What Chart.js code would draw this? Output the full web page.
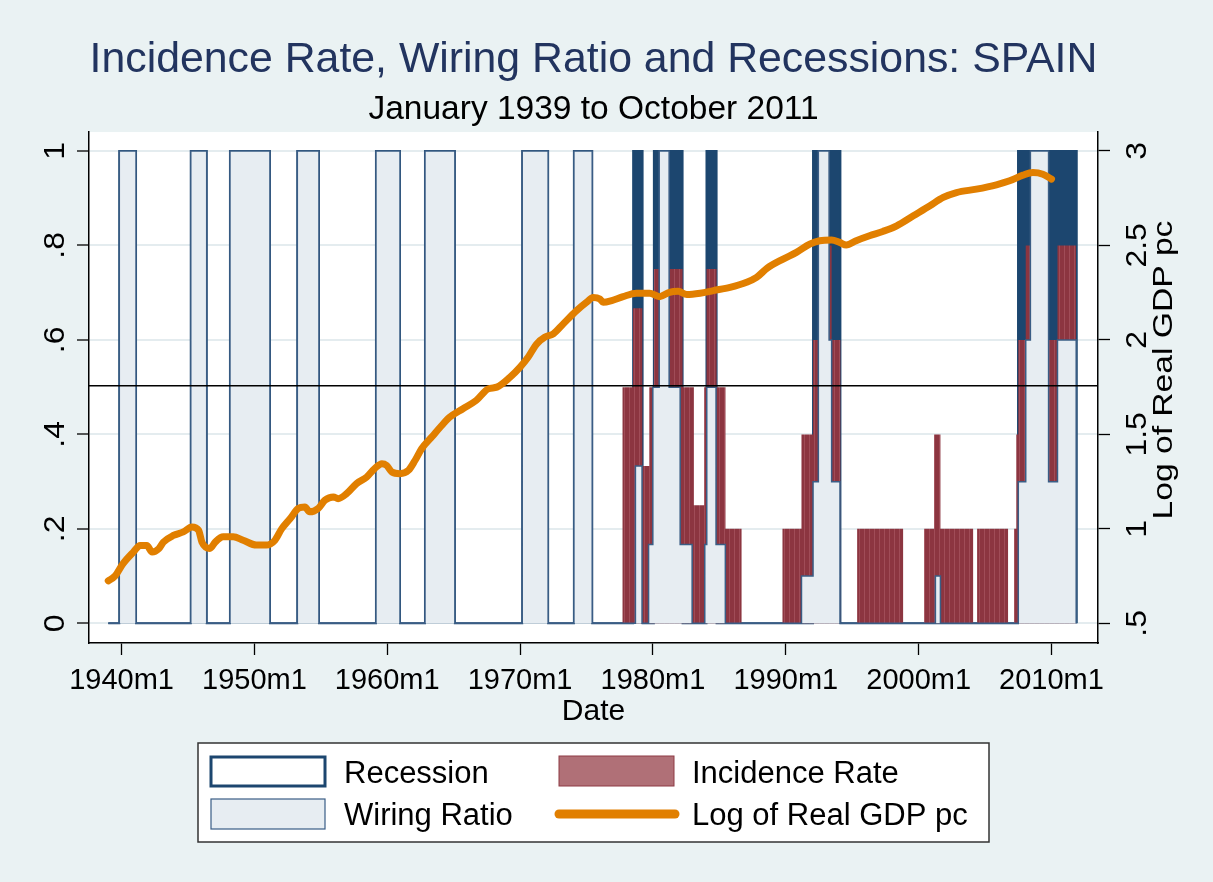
<!DOCTYPE html>
<html>
<head>
<meta charset="utf-8">
<script src="https://cdn.jsdelivr.net/npm/chart.js@4/dist/chart.umd.min.js"></script>
<style>
  html, body { margin: 0; padding: 0; background: #eaf2f3; }
  #chart_box { width: 1213px; height: 882px; }
</style>
</head>
<body>
<div id="chart_box"><canvas id="spain_canvas" width="1213" height="882"></canvas></div>
<script>
// Data range of the monthly series (decimal years): January 1939 to October 2011.
const series_start = 1939.0;

// Recession periods, start and end in decimal years.
const recession_starts = [1939.83, 1945.21, 1948.16, 1953.23, 1959.15, 1962.84, 1970.16, 1974.05,
                          1978.51, 1980.07, 1984.03, 1992.05, 2007.48];
const recession_ends = [1941.09, 1946.41, 1951.17, 1954.86, 1960.96, 1965.09, 1972.11, 1975.43,
                        1979.22, 1982.23, 1984.79, 1994.11, 2011.9];

// Incidence rate: date where a level starts, and the level held until the next date.
const incidence_dates = [1939.0, 1977.71, 1978.5, 1979.2, 1979.72, 1980.07, 1982.23, 1983.08,
                         1983.85, 1984.03, 1984.79, 1985.46, 1986.67, 1989.75, 1991.18, 1992.05,
                         1993.26, 1993.45, 1994.11, 1995.37, 1998.83, 2000.41, 2001.16, 2001.64,
                         2004.1, 2004.4, 2006.73, 2007.18, 2007.35, 2007.5, 2008.06, 2009.8,
                         2010.45, 2011.86];
const incidence_values = [0, 0.5, 0.667, 0.333, 0.5, 0.75, 0.5, 0.25,
                          0.5, 0.75, 0.5, 0.2, 0, 0.2, 0.4, 0.6,
                          0.8, 0.6, 0, 0.2, 0, 0.2, 0.4, 0.2,
                          0, 0.2, 0, 0.2, 0.4, 0.6, 0.8, 0.6,
                          0.8, 0];

// Wiring ratio, same layout as the incidence rate.
const wiring_dates = [1939.0, 1939.83, 1941.09, 1945.21, 1946.41, 1948.16, 1951.17, 1953.23,
                      1954.86, 1959.15, 1960.96, 1962.84, 1965.09, 1970.16, 1972.11, 1974.05,
                      1975.43, 1978.68, 1979.18, 1979.67, 1979.99, 1980.47, 1981.22, 1982.05,
                      1982.95, 1983.9, 1984.05, 1984.75, 1985.45, 1991.18, 1992.05, 1992.45,
                      1993.26, 1993.45, 1994.08, 2001.26, 2001.64, 2007.5, 2008.06, 2008.41,
                      2009.78, 2010.45, 2011.86];
const wiring_values = [0, 1, 0, 1, 0, 1, 0, 1,
                       0, 1, 0, 1, 0, 1, 0, 1,
                       0, 0.333, 0, 0.167, 0.5, 1, 0.5, 0.167,
                       0, 0.167, 0.5, 0.167, 0, 0.1, 0.3, 1,
                       0.6, 0.3, 0, 0.1, 0, 0.3, 0.6, 1,
                       0.3, 0.6, 0];

// Log of real GDP per capita (right axis).
const gdp_dates = [1939.0, 1939.5, 1940.1, 1940.9, 1941.4, 1941.9, 1942.3, 1942.8, 1943.15, 1943.9,
                   1944.65, 1945.3, 1945.8, 1946.05, 1946.65, 1947.05, 1947.65, 1948.4, 1949.15, 1950.15,
                   1950.9, 1951.55, 1952.05, 1952.7, 1953.3, 1953.8, 1954.15, 1954.8, 1955.3, 1955.95,
                   1956.3, 1956.95, 1957.7, 1958.45, 1959.05, 1959.6, 1959.95, 1960.35, 1960.95, 1961.6,
                   1962.1, 1962.6, 1963.4, 1964.0, 1964.7, 1965.7, 1966.7, 1967.6, 1968.25, 1969.25,
                   1970.0, 1970.6, 1971.25, 1971.85, 1972.5, 1973.25, 1974.25, 1975.0, 1975.5, 1976.0,
                   1976.25, 1976.9, 1977.75, 1978.75, 1979.75, 1980.5, 1981.25, 1981.9, 1982.55, 1983.55,
                   1984.55, 1985.8, 1987.05, 1987.8, 1988.6, 1989.8, 1990.8, 1991.8, 1992.55, 1993.45,
                   1994.05, 1994.55, 1995.3, 1996.3, 1997.3, 1998.35, 1999.6, 2000.85, 2001.85, 2002.85,
                   2004.35, 2005.85, 2006.85, 2007.85, 2008.6, 2009.35, 2010.0];
const gdp_values = [0.725, 0.75, 0.815, 0.878, 0.912, 0.912, 0.878, 0.895, 0.93, 0.965,
                    0.984, 1.01, 0.993, 0.93, 0.896, 0.93, 0.958, 0.958, 0.94, 0.914,
                    0.914, 0.94, 1.0, 1.055, 1.108, 1.116, 1.09, 1.108, 1.151, 1.169,
                    1.16, 1.187, 1.24, 1.274, 1.319, 1.345, 1.336, 1.301, 1.292, 1.31,
                    1.363, 1.425, 1.49, 1.539, 1.591, 1.636, 1.68, 1.741, 1.75, 1.803,
                    1.856, 1.908, 1.979, 2.014, 2.032, 2.085, 2.155, 2.199, 2.225, 2.217,
                    2.199, 2.208, 2.229, 2.247, 2.247, 2.229, 2.252, 2.257, 2.24, 2.247,
                    2.261, 2.278, 2.305, 2.331, 2.38, 2.428, 2.463, 2.507, 2.525, 2.529,
                    2.516, 2.502, 2.525, 2.551, 2.574, 2.604, 2.657, 2.71, 2.754, 2.78,
                    2.798, 2.821, 2.842, 2.872, 2.886, 2.877, 2.851];

// Horizontal reference line, left axis units.
const reference_level = 0.503;

// Axes.
const x_tick_years = [1940, 1950, 1960, 1970, 1980, 1990, 2000, 2010];
const left_tick_values = [0, 0.2, 0.4, 0.6, 0.8, 1];
const left_tick_labels = ['0', '.2', '.4', '.6', '.8', '1'];
const right_tick_values = [0.5, 1, 1.5, 2, 2.5, 3];
const right_tick_labels = ['.5', '1', '1.5', '2', '2.5', '3'];
const x_min = 1937.55;
const x_max = 2013.5;
const left_min = -0.0416;
const left_max = 1.04;
const right_min = 0.396;
const right_max = 3.1;

const FONT_FAMILY = '"Liberation Sans", Arial, sans-serif';
const PAGE_BG = '#eaf2f3';
const NAVY = '#1c466f';
const WIRING_FILL = '#e7edf2';
const WIRING_LINE = '#3a5d85';
const INCIDENCE_FILL = '#8c3540';
const ORANGE = '#e17f00';

/**
 * Turns two parallel arrays into {x, y} points for a linear x scale.
 */
function to_points(dates, values) {
  return dates.map((d, i) => ({x: d, y: values[i]}));
}

/**
 * Builds the outline of the recession bars from their start and end dates.
 */
function build_recession_points() {
  const points = [{x: series_start, y: 0}];
  for (let i = 0; i < recession_starts.length; i++) {
    points.push({x: recession_starts[i], y: 0});
    points.push({x: recession_starts[i], y: 1});
    points.push({x: recession_ends[i], y: 1});
    points.push({x: recession_ends[i], y: 0});
  }
  return points;
}

/**
 * Thin light stripes like the monthly bars of the incidence rate.
 */
function make_stripe_pattern() {
  const tile = document.createElement('canvas');
  tile.width = 5;
  tile.height = 8;
  const tctx = tile.getContext('2d');
  tctx.fillStyle = INCIDENCE_FILL;
  tctx.fillRect(0, 0, 5, 8);
  tctx.fillStyle = '#a04c57';
  tctx.fillRect(4, 0, 1, 8);
  return tctx.createPattern(tile, 'repeat');
}

/**
 * Writes text turned a quarter to the left, with its baseline at x.
 * stretch widens the text along its own direction (Stata's glyphs are wider).
 */
function draw_rotated_text(ctx, text, x, y, font, stretch) {
  ctx.save();
  ctx.translate(x, y);
  ctx.rotate(-Math.PI / 2);
  ctx.scale(stretch || 1, 1);
  ctx.font = font;
  ctx.fillStyle = '#000';
  ctx.textAlign = 'center';
  ctx.textBaseline = 'alphabetic';
  ctx.fillText(text, 0, 0);
  ctx.restore();
}

const backdrop_plugin = {
  id: 'backdrop',
  beforeDraw(chart) {
    const {ctx, chartArea} = chart;
    ctx.save();
    ctx.fillStyle = PAGE_BG;
    ctx.fillRect(0, 0, chart.width, chart.height);
    ctx.fillStyle = '#ffffff';
    ctx.fillRect(chartArea.left, chartArea.top,
                 chartArea.right - chartArea.left, chartArea.bottom - chartArea.top);
    ctx.restore();
  }
};

// Stata writes the y labels turned a quarter to the left.
const side_labels_plugin = {
  id: 'side_labels',
  afterDraw(chart) {
    const ctx = chart.ctx;
    const font = '29px ' + FONT_FAMILY;
    const y_scale = chart.scales.y;
    const y2_scale = chart.scales.y2;
    left_tick_values.forEach((v, i) => {
      draw_rotated_text(ctx, left_tick_labels[i], 64, y_scale.getPixelForValue(v), font, 1.1);
    });
    right_tick_values.forEach((v, i) => {
      draw_rotated_text(ctx, right_tick_labels[i], 1146, y2_scale.getPixelForValue(v), font, 1.1);
    });
    draw_rotated_text(ctx, 'Log of Real GDP pc', 1172, 370, '28px ' + FONT_FAMILY, 1.2);
  }
};

const legend_plugin = {
  id: 'stata_legend',
  afterDraw(chart) {
    const ctx = chart.ctx;
    ctx.save();
    ctx.fillStyle = '#ffffff';
    ctx.fillRect(198, 743, 791, 99);
    ctx.strokeStyle = '#333333';
    ctx.lineWidth = 1.5;
    ctx.strokeRect(198, 743, 791, 99);

    // Recession key
    ctx.fillStyle = '#ffffff';
    ctx.fillRect(211, 757, 114, 29);
    ctx.strokeStyle = NAVY;
    ctx.lineWidth = 3;
    ctx.strokeRect(211, 757, 114, 29);

    // Wiring ratio key
    ctx.fillStyle = WIRING_FILL;
    ctx.fillRect(211, 799, 114, 30);
    ctx.strokeStyle = WIRING_LINE;
    ctx.lineWidth = 1.2;
    ctx.strokeRect(211, 799, 114, 30);

    // Incidence rate key
    ctx.fillStyle = '#b07077';
    ctx.fillRect(559, 756, 115, 30);
    ctx.strokeStyle = '#8e3a45';
    ctx.lineWidth = 1;
    ctx.strokeRect(559, 756, 115, 30);

    // GDP line key
    ctx.strokeStyle = ORANGE;
    ctx.lineWidth = 9;
    ctx.lineCap = 'round';
    ctx.beginPath();
    ctx.moveTo(559, 814);
    ctx.lineTo(675, 814);
    ctx.stroke();

    ctx.fillStyle = '#000';
    ctx.font = '31px ' + FONT_FAMILY;
    ctx.textAlign = 'left';
    ctx.textBaseline = 'alphabetic';
    ctx.fillText('Recession', 344, 783);
    ctx.fillText('Wiring Ratio', 344, 825);
    ctx.fillText('Incidence Rate', 692, 783);
    ctx.fillText('Log of Real GDP pc', 692, 825);
    ctx.restore();
  }
};

function draw_chart() {
  Chart.defaults.font.family = FONT_FAMILY;
  Chart.defaults.color = '#000';

  const datasets = [
    {
      label: 'Log of Real GDP pc',
      data: to_points(gdp_dates, gdp_values),
      yAxisID: 'y2',
      borderColor: ORANGE,
      borderWidth: 7,
      borderCapStyle: 'round',
      borderJoinStyle: 'round',
      cubicInterpolationMode: 'monotone',
      pointRadius: 0,
      fill: false,
      order: 0
    },
    {
      label: 'reference',
      data: [{x: x_min, y: reference_level}, {x: x_max, y: reference_level}],
      yAxisID: 'y',
      borderColor: '#000',
      borderWidth: 1.3,
      pointRadius: 0,
      fill: false,
      order: 1
    },
    {
      label: 'Wiring Ratio',
      data: to_points(wiring_dates, wiring_values),
      yAxisID: 'y',
      stepped: true,
      borderColor: WIRING_LINE,
      borderWidth: 1.5,
      backgroundColor: WIRING_FILL,
      pointRadius: 0,
      fill: 'origin',
      order: 2
    },
    {
      label: 'Incidence Rate',
      data: to_points(incidence_dates, incidence_values),
      yAxisID: 'y',
      stepped: true,
      borderColor: INCIDENCE_FILL,
      borderWidth: 0,
      backgroundColor: make_stripe_pattern(),
      pointRadius: 0,
      fill: 'origin',
      order: 3
    },
    {
      label: 'Recession',
      data: build_recession_points(),
      yAxisID: 'y',
      borderColor: NAVY,
      borderWidth: 2,
      backgroundColor: NAVY,
      pointRadius: 0,
      tension: 0,
      fill: 'origin',
      order: 4
    }
  ];

  new Chart(document.getElementById('spain_canvas'), {
    type: 'line',
    data: {datasets: datasets},
    plugins: [backdrop_plugin, side_labels_plugin, legend_plugin],
    options: {
      responsive: false,
      devicePixelRatio: 1,
      animation: false,
      layout: {padding: 0},
      plugins: {
        legend: {display: false},
        tooltip: {enabled: false},
        title: {
          display: true,
          fullSize: false,
          text: 'Incidence Rate, Wiring Ratio and Recessions: SPAIN',
          color: '#22345f',
          font: {size: 42.8, weight: 'normal'},
          padding: {top: 35, bottom: 2}
        },
        subtitle: {
          display: true,
          fullSize: false,
          text: 'January 1939 to October 2011',
          color: '#000',
          font: {size: 33.5, weight: 'normal'},
          padding: {top: 1, bottom: 2.5}
        }
      },
      scales: {
        x: {
          type: 'linear',
          min: x_min,
          max: x_max,
          afterBuildTicks: (scale) => {
            scale.ticks = x_tick_years.map(v => ({value: v}));
          },
          afterFit: (scale) => { scale.height = 239; },
          ticks: {
            autoSkip: false,
            maxRotation: 0,
            padding: 9,
            font: {size: 29},
            callback: (value) => value + 'm1'
          },
          grid: {drawOnChartArea: false, tickLength: 12, tickColor: '#000', tickWidth: 1.3},
          border: {color: '#000', width: 1.5},
          title: {
            display: true,
            text: 'Date',
            font: {size: 30},
            padding: {top: 0, bottom: 152}
          }
        },
        y: {
          type: 'linear',
          position: 'left',
          min: left_min,
          max: left_max,
          afterBuildTicks: (scale) => {
            scale.ticks = left_tick_values.map(v => ({value: v}));
          },
          afterFit: (scale) => { scale.width = 89; },
          ticks: {display: false},
          grid: {color: '#e4ecef', lineWidth: 2, tickLength: 12, tickColor: '#000', tickWidth: 1.3},
          border: {color: '#000', width: 1.5}
        },
        y2: {
          type: 'linear',
          position: 'right',
          min: right_min,
          max: right_max,
          afterBuildTicks: (scale) => {
            scale.ticks = right_tick_values.map(v => ({value: v}));
          },
          afterFit: (scale) => { scale.width = 115; },
          ticks: {display: false},
          grid: {drawOnChartArea: false, tickLength: 12, tickColor: '#000', tickWidth: 1.3},
          border: {color: '#000', width: 1.5}
        }
      }
    }
  });
}

draw_chart();
</script>
</body>
</html>
